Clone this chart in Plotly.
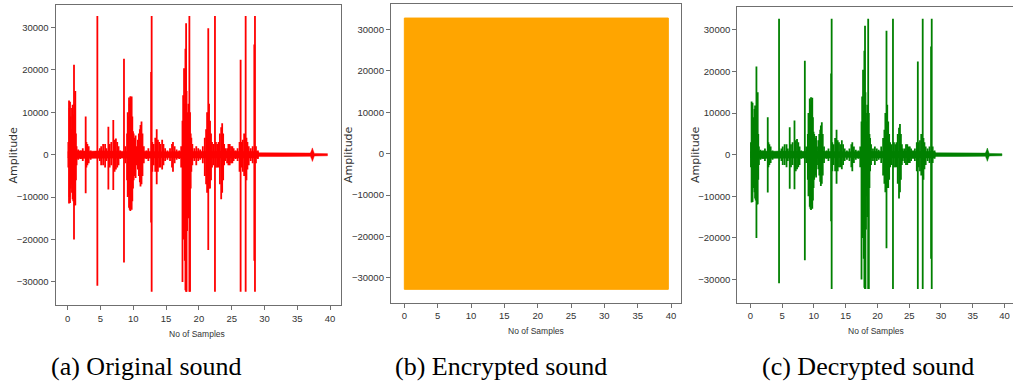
import plotly.graph_objects as go

# ---------------- data ----------------
# Speech waveform: strong strokes (time s, positive peak, negative peak)
stroke_t = [0.10, 0.20, 0.28, 0.35, 0.45, 0.55, 0.65, 0.75, 0.85, 0.96, 1.05, 1.16, 1.25, 1.35,
            1.6, 2.0, 2.3, 2.74, 2.85, 3.0, 3.2, 3.5, 4.52, 4.9, 5.1, 5.4, 5.7, 5.9,
            6.2, 6.4, 6.65, 6.95, 7.15, 7.35, 7.55, 7.75, 8.0, 8.58, 8.8,
            9.05, 9.15, 9.25, 9.35, 9.45, 9.55, 9.65, 9.75, 9.85, 9.95, 10.05, 10.2, 10.35, 10.5,
            10.7, 10.85, 11.0, 11.1, 11.25, 11.4, 11.6, 12.0, 12.3, 12.72, 12.8, 12.9, 13.1,
            13.35, 13.57, 13.75, 13.95, 14.15, 14.4, 14.6, 14.85, 15.2, 15.6, 15.9, 16.05, 16.3,
            16.6, 17.0, 17.3, 17.5, 17.6, 17.74, 17.85, 17.95, 18.05, 18.12, 18.2, 18.3, 18.4,
            18.55, 18.65, 18.75, 18.85, 19.0, 19.3, 19.6, 19.9, 20.2, 20.6, 20.9, 21.1, 21.25,
            21.43, 21.55, 21.7, 21.85, 22.0, 22.2, 22.45, 22.6, 22.8, 23.0, 23.2, 23.4, 23.55,
            23.7, 23.85, 24.0, 24.3, 24.5, 24.7, 24.9, 25.1, 25.3, 25.6, 25.9, 26.2, 26.36,
            26.5, 26.7, 26.9, 27.13, 27.25, 27.4, 27.6, 27.9, 28.2, 28.45, 28.55, 28.7, 29.0]
stroke_hi = [3000, 12800, 11000, 12500, 9000, 6000, 11000, 11800, 9500, 21200, 12000, 15000, 5000, 2000,
             1200, 1000, 1500, 9000, 3000, 2500, 2000, 1000, 32700, 1500, 2000, 2500, 2500, 1500,
             6600, 2500, 3000, 8200, 3500, 3800, 3000, 2000, 1000, 22600, 2000,
             5000, 10000, 9000, 13500, 12000, 13800, 13000, 13700, 9000, 5500, 5000, 4000, 4500, 2000,
             3500, 5000, 6000, 7000, 7800, 5000, 2000, 1000, 1500, 19500, 32700, 3000, 2500,
             4000, 6000, 3500, 3000, 2500, 3500, 2500, 1500, 1000, 1500, 2500, 3000, 2000,
             1200, 1000, 2000, 8000, 14000, 20400, 12000, 25000, 31000, 15000, 10000, 8000, 12000,
             32700, 10000, 5000, 4000, 2500, 1500, 2000, 1500, 1200, 2000, 4000, 6000, 10000,
             29800, 12000, 8000, 5000, 3000, 2500, 32700, 3000, 2500, 3000, 5000, 6500, 7400,
             5000, 2500, 1500, 1500, 2500, 2500, 2000, 2000, 1500, 1000, 1500, 3000, 22400,
             3000, 3500, 5000, 32700, 4000, 3000, 2000, 1500, 2000, 26000, 32700, 2000, 1000]
stroke_lo = [-3000, -11500, -10000, -11400, -8000, -7000, -9000, -10500, -11000, -20000, -12000, -11900, -6000, -2500,
             -1200, -1000, -1500, -9100, -3000, -2500, -2000, -1200, -30900, -1500, -2500, -2500, -3000, -1500,
             -8200, -3000, -2500, -8300, -4000, -3500, -3000, -2500, -1000, -25400, -2000,
             -6000, -10000, -9500, -12500, -13000, -13300, -12000, -13000, -11000, -8000, -6000, -5000, -5500, -2500,
             -3500, -5000, -6500, -7500, -7000, -5000, -2000, -1000, -1500, -16000, -32300, -4000, -2500,
             -4000, -7000, -4000, -3000, -3000, -3500, -2500, -1500, -1200, -1500, -3000, -4000, -2000,
             -1200, -1000, -3000, -30000, -20000, -15000, -25000, -32000, -32300, -32300, -18000, -10000, -15000,
             -32300, -32300, -8000, -4000, -2500, -1500, -2500, -1500, -1200, -2000, -5000, -7000, -9000,
             -22500, -8000, -8000, -6000, -3000, -2500, -32300, -3000, -3000, -3000, -7000, -10500, -9000,
             -6000, -2500, -1500, -2000, -2500, -2500, -2000, -2000, -1500, -1000, -1500, -4000, -32300,
             -3000, -4000, -5000, -32300, -6000, -3500, -2500, -1500, -2000, -25000, -32300, -2000, -1000]

# Low-level background signal envelope (time s, half amplitude)
floor_t = [0.0, 1.5, 3.5, 5.0, 8.0, 10.5, 12.0, 15.0, 17.0, 19.5, 22.0, 24.0, 26.0, 28.9,
           29.2, 33.0, 37.0, 37.2, 37.3, 37.4, 37.6, 39.6]
floor_amp = [700, 900, 800, 900, 800, 900, 800, 700, 800, 800, 800, 900, 800, 800,
             450, 420, 380, 1100, 1600, 1100, 300, 250]

# Encrypted signal spans the full 16-bit range over the whole clip
enc_t = [0.0, 39.6]
enc_max = 32767
enc_min = -32768

x_ticks = [0, 5, 10, 15, 20, 25, 30, 35, 40]
y_ticks = [-30000, -20000, -10000, 0, 10000, 20000, 30000]
y_tick_text = ["\u221230000", "\u221220000", "\u221210000", "0", "10000", "20000", "30000"]

captions = ["(a) Original sound", "(b) Encrypted sound", "(c) Decrypted sound"]
colors = ["#ff0000", "#ffa500", "#008000"]

W, H = 1013, 387

# ---------------- figure ----------------
fig = go.Figure()


def waveform_traces(color, xa, ya):
    sx, sy = [], []
    for t, hi, lo in zip(stroke_t, stroke_hi, stroke_lo):
        sx += [t, t, None]
        sy += [lo, hi, None]
    fx = floor_t + floor_t[::-1]
    fy = floor_amp + [-a for a in floor_amp[::-1]]
    fig.add_trace(go.Scatter(x=fx, y=fy, fill="toself", fillcolor=color, mode="lines",
                             line=dict(color=color, width=0.5), xaxis=xa, yaxis=ya,
                             hoverinfo="skip", showlegend=False))
    fig.add_trace(go.Scatter(x=sx, y=sy, mode="lines", line=dict(color=color, width=1.8),
                             xaxis=xa, yaxis=ya, showlegend=False))


waveform_traces(colors[0], "x", "y")

ex = [enc_t[0], enc_t[1], enc_t[1], enc_t[0], enc_t[0]]
ey = [enc_max, enc_max, enc_min, enc_min, enc_max]
fig.add_trace(go.Scatter(x=ex, y=ey, fill="toself", fillcolor=colors[1], mode="lines",
                         line=dict(color=colors[1], width=1), xaxis="x2", yaxis="y2",
                         showlegend=False))

waveform_traces(colors[2], "x3", "y3")

# panel geometry in pixels: (left, right, top, bottom, xrange, yrange, mirror_y)
panels = [
    (55.7, 340.7, 4.5, 305.0, [-1.83, 41.62], [-35450, 35420], True),
    (391.0, 681.0, 4.0, 302.7, [-2.0, 41.5], [-36000, 36160], True),
    (737.3, 1013.0, 6.7, 302.7, [-2.05, 41.34], [-35580, 35580], False),
]

tick_font = dict(family="Liberation Sans, Arial, sans-serif", size=9.5, color="#333333")
spine = "#6f6f6f"

layout = {}
for i, (l, r, t, b, xr, yr, my) in enumerate(panels):
    sfx = "" if i == 0 else str(i + 1)
    layout["xaxis" + sfx] = dict(
        domain=[l / W, min(r / W, 1.0)], range=xr, anchor="y" + sfx,
        tickvals=x_ticks, ticks="outside", ticklen=4, tickcolor=spine, tickwidth=1,
        showline=True, linecolor=spine, linewidth=1.3, mirror=True,
        showgrid=False, zeroline=False, tickfont=tick_font, fixedrange=True)
    layout["yaxis" + sfx] = dict(
        domain=[1 - b / H, 1 - t / H], range=yr, anchor="x" + sfx,
        tickvals=y_ticks, ticktext=y_tick_text, ticks="outside", ticklen=4,
        tickcolor=spine, tickwidth=1,
        showline=True, linecolor=spine, linewidth=1.3, mirror=my,
        showgrid=False, zeroline=False, tickfont=tick_font, fixedrange=True)

fig.update_layout(
    width=W, height=H, margin=dict(l=0, r=0, t=0, b=0),
    paper_bgcolor="white", plot_bgcolor="white", showlegend=False,
    **layout)

amp_x = [12.5, 348.0, 695.0]
xlab = [(197.0, 334.0), (535.5, 331.0), (876.0, 331.0)]
cap_x = [146.0, 501.0, 868.0]

for i in range(3):
    fig.add_annotation(text="Amplitude", x=amp_x[i] / W, y=1 - 155 / H, xref="paper", yref="paper",
                       xanchor="center", yanchor="middle", textangle=-90, showarrow=False,
                       font=dict(family="DejaVu Sans", size=11, color="#333333"))
    fig.add_annotation(text="No of Samples", x=xlab[i][0] / W, y=1 - xlab[i][1] / H,
                       xref="paper", yref="paper", xanchor="center", yanchor="middle",
                       showarrow=False,
                       font=dict(family="Liberation Sans, Arial, sans-serif", size=8.5,
                                 color="#333333"))
    fig.add_annotation(text=captions[i], x=cap_x[i] / W, y=1 - 366 / H, xref="paper", yref="paper",
                       xanchor="center", yanchor="middle", showarrow=False,
                       font=dict(family="Liberation Serif, Times New Roman, serif", size=26,
                                 color="#000000"))

fig.write_html("out.html")
